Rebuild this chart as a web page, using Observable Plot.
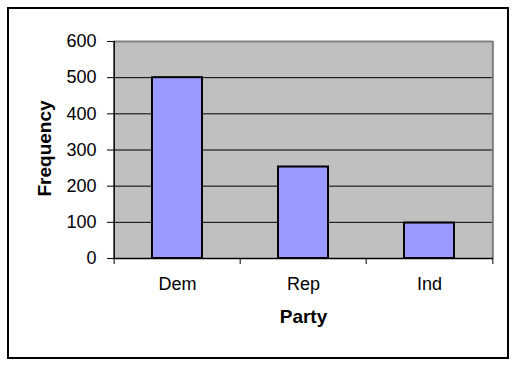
<!DOCTYPE html>
<html>
<head>
<meta charset="utf-8">
<script src="https://cdn.jsdelivr.net/npm/d3@7"></script>
<script src="https://cdn.jsdelivr.net/npm/@observablehq/plot@0.6"></script>
<style>
  html, body { margin: 0; padding: 0; background: #fff; }
  #wrap { position: relative; width: 519px; height: 369px; }
  #border { position: absolute; left: 7px; top: 7px; width: 502px; height: 352px; box-sizing: border-box; border: 2px solid #000; pointer-events: none; }
  svg { display: block; }
</style>
</head>
<body>
<div id="wrap"><div id="border"></div></div>
<script>
const parties = ["Dem", "Rep", "Ind"];
const frequencies = [500, 253, 98];
const yTicks = [0, 100, 200, 300, 400, 500, 600];
const gridValues = [100, 200, 300, 400, 500];
const xLabel = "Party";
const yLabel = "Frequency";

const data = parties.map((p, i) => ({party: p, freq: frequencies[i]}));

const W = 519, H = 369;
const mL = 113, mR = 26, mT = 41, mB = 111;
const step = (W - mL - mR) / parties.length;
const font = "'Liberation Sans', Arial, sans-serif";

const chart = Plot.plot({
  width: W,
  height: H,
  marginLeft: mL,
  marginRight: mR,
  marginTop: mT,
  marginBottom: mB,
  style: {fontFamily: font, color: "#000", background: "transparent", overflow: "visible"},
  x: {domain: parties, paddingInner: 0.6, paddingOuter: 0.3, label: null},
  y: {domain: [0, 600], label: null},
  marks: [
    Plot.frame({fill: "#c0c0c0", stroke: null}),
    Plot.ruleY(gridValues, {stroke: "#000", strokeWidth: 1}),
    Plot.ruleY([600], {stroke: "#808080", strokeWidth: 2}),
    Plot.ruleX([parties[parties.length - 1]], {dx: step / 2, y1: 0, y2: 600, stroke: "#808080", strokeWidth: 2}),
    Plot.barY(data, {x: "party", y: "freq", fill: "#9999ff", stroke: "#000", strokeWidth: 2}),
    Plot.ruleY([0], {stroke: "#000", strokeWidth: 1.5}),
    Plot.ruleX([parties[0]], {dx: -step / 2, y1: 0, y2: 600, stroke: "#000", strokeWidth: 1.5}),
    Plot.axisY({ticks: yTicks, tickSize: 6, tickPadding: 11, fontSize: 18, label: null, stroke: "#000"}),
    Plot.axisX({ticks: parties, tickSize: 6, tickFormat: () => "", dx: -step / 2, label: null, stroke: "#000"}),
    Plot.axisX({ticks: [parties[parties.length - 1]], tickSize: 6, tickFormat: () => "", dx: step / 2, label: null, stroke: "#000"}),
    Plot.axisX({ticks: parties, tickSize: 0, tickPadding: 19, fontSize: 18, label: null}),
    Plot.text([xLabel], {frameAnchor: "bottom", textAnchor: "middle", dy: 64, fontSize: 19, fontWeight: "bold", fill: "#000"}),
    Plot.text([yLabel], {frameAnchor: "left", textAnchor: "middle", dx: -69, dy: -1.5, rotate: -90, fontSize: 19, fontWeight: "bold", fill: "#000"})
  ]
});
document.getElementById("wrap").insertBefore(chart, document.getElementById("border"));
</script>
</body>
</html>
